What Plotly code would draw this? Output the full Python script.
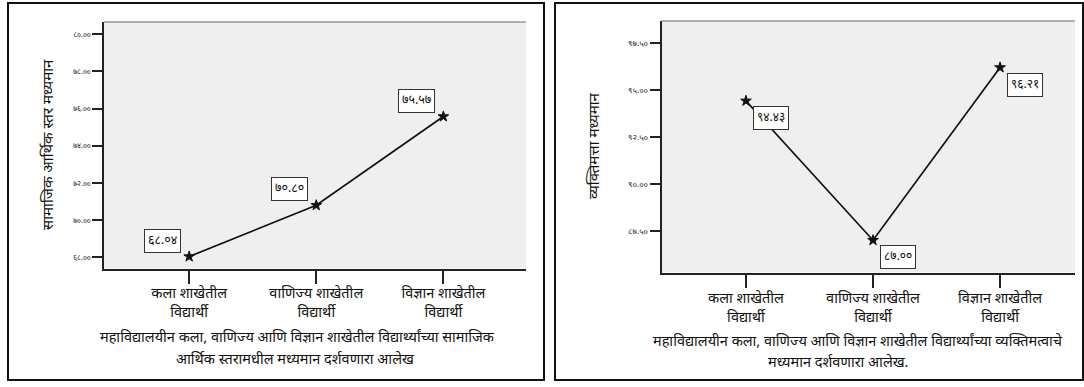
import plotly.graph_objects as go

# Data
categories = ["कला शाखेतील<br>विद्यार्थी", "वाणिज्य शाखेतील<br>विद्यार्थी", "विज्ञान शाखेतील<br>विद्यार्थी"]
socio_means = [68.04, 70.80, 75.57]
personality_means = [94.43, 87.00, 96.21]
socio_ticks = [68, 70, 72, 74, 76, 78, 80]
personality_ticks = [87.5, 90, 92.5, 95, 97.5]

socio_title = "सामाजिक आर्थिक स्तर मध्यमान"
personality_title = "व्यक्तिमत्ता मध्यमान"
socio_caption = ["महाविद्यालयीन कला, वाणिज्य आणि विज्ञान शाखेतील विद्यार्थ्यांच्या सामाजिक",
                 "आर्थिक स्तरामधील मध्यमान दर्शवणारा आलेख"]
personality_caption = ["महाविद्यालयीन कला, वाणिज्य आणि विज्ञान शाखेतील विद्यार्थ्यांच्या व्यक्तिमत्वाचे",
                       "मध्यमान दर्शवणारा आलेख."]

W, H = 1084, 387
FONT = "Noto Sans Devanagari, Noto Sans, sans-serif"


def deva(s):
    # ascii digits -> devanagari digits
    return s.translate(str.maketrans("0123456789", "०१२३४५६७८९"))


def px_x(v):
    return v / W


def px_y(v):
    return 1 - v / H


x_idx = list(range(len(categories)))

fig = go.Figure()

for vals, xa, ya in [(socio_means, "x", "y"), (personality_means, "x2", "y2")]:
    fig.add_trace(go.Scatter(
        x=x_idx, y=vals, xaxis=xa, yaxis=ya, mode="lines+markers",
        line=dict(color="#111111", width=1.7),
        marker=dict(symbol="star", size=8, color="#111111",
                    line=dict(color="#111111", width=1)),
        showlegend=False, hoverinfo="skip",
    ))

axis_common = dict(showgrid=False, zeroline=False, showline=True, linecolor="#222222",
                   linewidth=1.5, ticks="outside", tickcolor="#222222", tickwidth=1.5,
                   fixedrange=True)

fig.update_layout(
    width=W, height=H, margin=dict(l=0, r=0, t=0, b=0),
    paper_bgcolor="white", plot_bgcolor="#efefef",
    font=dict(family=FONT, color="#111111"),
    xaxis=dict(domain=[px_x(104), px_x(526)], range=[-0.67, 2.65], anchor="y",
               tickvals=x_idx, ticktext=categories, ticklen=14, ticklabelstandoff=-4,
               tickfont=dict(size=14.5, color="#111111"), **axis_common),
    yaxis=dict(domain=[px_y(268.5), px_y(22)], range=[67.4, 80.65], anchor="x",
               tickvals=socio_ticks, ticktext=[deva(f"{t:.2f}") for t in socio_ticks],
               ticklen=10, tickfont=dict(size=7.5, color="#222222"), **axis_common),
    xaxis2=dict(domain=[px_x(661.5), px_x(1075)], range=[-0.665, 2.59], anchor="y2",
                tickvals=x_idx, ticktext=categories, ticklen=14, ticklabelstandoff=-3,
                tickfont=dict(size=14.5, color="#111111"), **axis_common),
    yaxis2=dict(domain=[px_y(272.5), px_y(21)], range=[85.28, 98.69], anchor="x2",
                tickvals=personality_ticks,
                ticktext=[deva(f"{t:.2f}") for t in personality_ticks],
                ticklen=10, tickfont=dict(size=8.5, color="#222222"), **axis_common),
)

shapes = []
# panel frames
for x0, x1 in [(8, 544), (555, 1083)]:
    shapes.append(dict(type="rect", xref="paper", yref="paper",
                       x0=px_x(x0), x1=px_x(x1), y0=px_y(380), y1=px_y(3),
                       line=dict(color="#111111", width=2)))
# top edge of each plot area
for x0, x1, y in [(104, 526, 22), (661.5, 1075, 21)]:
    shapes.append(dict(type="line", xref="paper", yref="paper",
                       x0=px_x(x0), x1=px_x(x1), y0=px_y(y), y1=px_y(y),
                       line=dict(color="#666666", width=1.2)))
fig.update_layout(shapes=shapes)

ann = []
# value labels
for i, v in enumerate(socio_means):
    ann.append(dict(x=i, y=v, xref="x", yref="y", text=deva(f"{v:.2f}"), showarrow=False,
                    xshift=-27, yshift=16, font=dict(size=12.5), bgcolor="white",
                    bordercolor="#333333", borderwidth=1, borderpad=3))
for i, v in enumerate(personality_means):
    ann.append(dict(x=i, y=v, xref="x2", yref="y2", text=deva(f"{v:.2f}"), showarrow=False,
                    xshift=25, yshift=-17, font=dict(size=12), bgcolor="white",
                    bordercolor="#333333", borderwidth=1, borderpad=3))

# axis titles
ann.append(dict(x=px_x(49), y=px_y(145), xref="paper", yref="paper", text=socio_title,
                textangle=-90, showarrow=False, xanchor="center", yanchor="middle",
                font=dict(size=15)))
ann.append(dict(x=px_x(596), y=px_y(146), xref="paper", yref="paper", text=personality_title,
                textangle=-90, showarrow=False, xanchor="center", yanchor="middle",
                font=dict(size=15)))

# captions
for line, cx, cy in [(socio_caption[0], 297, 338), (socio_caption[1], 295, 360),
                     (personality_caption[0], 858, 342), (personality_caption[1], 838, 363)]:
    ann.append(dict(x=px_x(cx), y=px_y(cy), xref="paper", yref="paper", text=line,
                    showarrow=False, xanchor="center", yanchor="middle",
                    font=dict(size=14.5)))

fig.update_layout(annotations=ann)

fig.write_html("out.html", config={"displayModeBar": False},
               post_script="document.body.style.margin='0';")
